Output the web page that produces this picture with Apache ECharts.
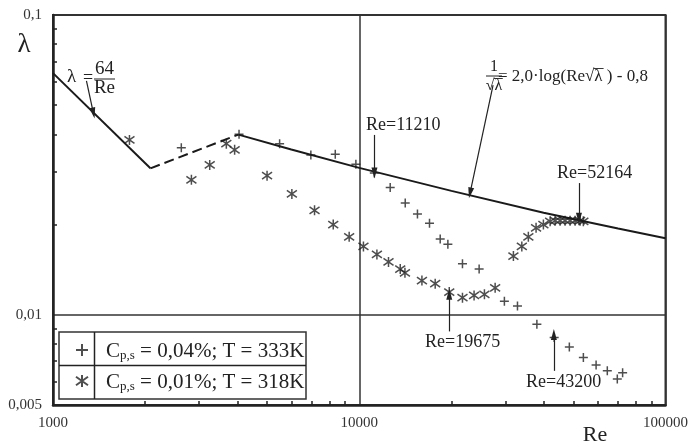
<!DOCTYPE html>
<html>
<head>
<meta charset="utf-8">
<script src="https://cdn.jsdelivr.net/npm/echarts@6/dist/echarts.min.js"></script>
<style>html,body{margin:0;padding:0;background:#fff}#main{width:691px;height:445px}</style>
</head>
<body>
<div id="main"></div>
<script>
// линии: ламинарный участок, переход, формула Прандтля
var laminarRe = [1000, 2080];
var laminarLambda = [0.064, 0.0308];
var transRe = [2080, 4030];
var transLambda = [0.0308, 0.0399];
var turbRe = [4030, 6000, 10000, 20000, 40000, 70000, 100000];
var turbLambda = [0.0399, 0.0356, 0.0309, 0.0259, 0.0219, 0.0194, 0.0180];

// + : Cp,s = 0,04%; T = 333K
var plusRe = [2624, 4050, 5495, 6950, 8350, 9750, 11200, 12620, 14130, 15490, 16960, 18380, 19470,
	21730, 24630, 29780, 32860, 38020, 43300, 48530, 53930, 59340, 64560, 69600, 72440];
var plusLambda = [0.0361, 0.0400, 0.0372, 0.0341, 0.0343, 0.0318, 0.0297, 0.0266, 0.0236, 0.0217, 0.0202, 0.0179, 0.0172,
	0.0148, 0.0142, 0.0111, 0.0107, 0.0093, 0.0084, 0.0078, 0.0072, 0.0068, 0.0065, 0.0061, 0.0064];

// * : Cp,s = 0,01%; T = 318K
var starRe = [1777, 2831, 3249, 3681, 3918, 5000, 6025, 7145, 8224, 9270, 10320, 11420, 12460, 13610, 14100,
	16020, 17700, 19675, 21730, 23710, 25630, 27780, 31870, 33950, 35660, 37790, 39930,
	42000, 43610, 45270, 46990, 48800, 50670, 52600, 53920];
var starLambda = [0.0383, 0.0282, 0.0316, 0.0372, 0.0355, 0.0291, 0.0253, 0.0223, 0.0200, 0.0182, 0.0169, 0.0159, 0.0150, 0.0142, 0.0138,
	0.0130, 0.0127, 0.0119, 0.0114, 0.0116, 0.0117, 0.0123, 0.0157, 0.0169, 0.0182, 0.0195, 0.0200,
	0.0205, 0.0206, 0.0206, 0.0206, 0.0206, 0.0206, 0.0206, 0.0205];

var xMinor = [2000, 3000, 4000, 5000, 6000, 7000, 8000, 9000, 20000, 30000, 40000, 50000, 60000, 70000, 80000, 90000];
var yMinor = [0.006, 0.007, 0.008, 0.009, 0.02, 0.03, 0.04, 0.05, 0.06, 0.07, 0.08, 0.09];
var legendNames = ['Cp,s = 0,04%; T = 333K', 'Cp,s = 0,01%; T = 318K'];

// стрелки с подписями Re=...
var arrowRe = [11210, 52164, 19675, 43200];
var arrowFrom = [0.0398, 0.0275, 0.0088, 0.0065];
var arrowTo = [0.0297, 0.0210, 0.0117, 0.0086];
var arrowText = ['Re=11210', 'Re=52164', 'Re=19675', 'Re=43200'];
var arrowTextPos = [[366, 125], [557, 173], [425, 342], [526, 382]];

var FONT = '"Liberation Serif", "Times New Roman", serif';
var INK = '#222';

function zip(a, b) {
	return a.map(function (v, i) { return [v, b[i]]; });
}

var cv = document.createElement('canvas').getContext('2d');
function tw(s, size) {
	cv.font = size + 'px ' + FONT;
	return cv.measureText(s).width;
}

var plusPath = 'path://M0,5L10,5M5,0L5,10';
var starPath = 'path://M5,0L5,10M0,1.5L10,8.5M0,8.5L10,1.5';
var headPath = 'path://M5,0L10,16L0,16Z';

function arrow(x1, y1, x2, y2) {
	return [
		{ coord: [x1, y1], symbol: 'none' },
		{ coord: [x2, y2], symbol: headPath, symbolSize: [6, 11] }
	];
}

var arrows = arrowRe.map(function (re, i) {
	return arrow(re, arrowFrom[i], re, arrowTo[i]);
});
arrows.push(arrow(1286, 0.0603, 1355, 0.0471));
arrows.push(arrow(27350, 0.0584, 23010, 0.0255));

var graphic = [];
function txt(s, x, y, size, align) {
	graphic.push({
		type: 'text', x: x, y: y, silent: true,
		style: { text: s, fontSize: size, fontFamily: FONT, fill: INK, align: align || 'left', verticalAlign: 'middle' }
	});
}
function ln(x1, y1, x2, y2, w) {
	graphic.push({
		type: 'line', silent: true,
		shape: { x1: x1, y1: y1, x2: x2, y2: y2 },
		style: { stroke: INK, lineWidth: w || 1.2 }
	});
}

// подписи осей
txt('λ', 24, 45, 27, 'center');
txt('Re', 595, 435, 22, 'center');

// λ = 64/Re
txt('λ', 67, 77, 19);
txt('=', 88, 78, 18, 'center');
txt('64', 104.5, 69, 19, 'center');
ln(94, 79, 115, 79, 1);
txt('Re', 104.5, 88, 19, 'center');

// 1/√λ = 2,0·log(Re√λ) - 0,8
(function () {
	var fs = 17, y = 77, ff = 16;
	txt('1', 494, 67, ff, 'center');
	ln(486, 76, 502, 76, 1);
	var w1 = tw('√', ff), w2 = tw('λ', ff);
	var x0 = 494 - (w1 + w2) / 2;
	txt('√', x0, 85.5, ff);
	txt('λ', x0 + w1, 85.5, ff);
	ln(x0 + w1 - 0.5, 78.5, x0 + w1 + w2 + 0.5, 78.5, 0.9);
	var a = '= 2,0·log(Re';
	var x = 498;
	txt(a, x, y, fs);
	x += tw(a, fs);
	txt('√', x, y, fs);
	x += tw('√', fs);
	txt('λ', x, y, fs);
	ln(x - 0.5, y - 8.5, x + tw('λ', fs) + 1, y - 8.5, 0.9);
	x += tw('λ', fs);
	txt(' ) - 0,8', x, y, fs);
})();

arrowText.forEach(function (s, i) {
	txt(s, arrowTextPos[i][0], arrowTextPos[i][1], 18);
});

// рамка легенды
graphic.push({
	type: 'rect', silent: true,
	shape: { x: 59, y: 332, width: 247, height: 67 },
	style: { fill: 'none', stroke: '#333', lineWidth: 1.5 }
});
ln(94.5, 332, 94.5, 399, 1.5);
ln(59, 365.5, 306, 365.5, 1.5);

var myChart = echarts.init(document.getElementById('main'));

myChart.setOption({
	animation: false,
	grid: {
		left: 53, top: 15, width: 613, height: 390,
		show: true, borderColor: '#333', borderWidth: 2
	},

	legend: {
		data: legendNames,
		orient: 'vertical',
		left: 70, top: 336,
		itemWidth: 12, itemHeight: 12, itemGap: 10,
		selectedMode: false,
		formatter: function (name) {
			return name.replace(/^Cp,s/, '{c|C}{s|p,s}{m|') + '}';
		},
		textStyle: {
			rich: {
				c: { fontFamily: FONT, fontSize: 21, color: INK, lineHeight: 24, verticalAlign: 'bottom', padding: [0, 0, 0, 13] },
				m: { fontFamily: FONT, fontSize: 21, color: INK, lineHeight: 24, verticalAlign: 'bottom' },
				s: { fontFamily: FONT, fontSize: 13, color: INK, lineHeight: 6, verticalAlign: 'bottom' }
			}
		}
	},

	xAxis: [
		{
			type: 'log', logBase: 10, min: 1000, max: 100000,
			axisLine: { lineStyle: { color: INK, width: 2.5 } },
			axisTick: { show: false },
			axisLabel: {
				fontFamily: FONT, fontSize: 15, color: '#333', margin: 11,
				formatter: function (v) { return String(Math.round(v)); }
			},
			splitLine: { show: true, lineStyle: { color: '#333', width: 1.5 } }
		},
		{
			type: 'log', logBase: 10, min: 1000, max: 100000, position: 'bottom',
			axisLine: { show: false },
			axisLabel: { show: false },
			splitLine: { show: false },
			axisTick: { show: true, inside: true, length: 4, customValues: xMinor, lineStyle: { color: INK, width: 1.5 } }
		}
	],

	yAxis: [
		{
			type: 'log', logBase: 10, min: 0.005, max: 0.1,
			axisLine: { lineStyle: { color: INK, width: 2.5 } },
			axisTick: { show: false },
			axisLabel: {
				fontFamily: FONT, fontSize: 15, color: '#333', margin: 11, showMinLabel: true,
				formatter: function (v) { return String(+(+v).toPrecision(3)).replace('.', ','); }
			},
			splitLine: { show: true, lineStyle: { color: '#333', width: 1.5 } }
		},
		{
			type: 'log', logBase: 10, min: 0.005, max: 0.1, position: 'left',
			axisLine: { show: false },
			axisLabel: { show: false },
			splitLine: { show: false },
			axisTick: { show: true, inside: true, length: 4, customValues: yMinor, lineStyle: { color: INK, width: 1.5 } }
		}
	],

	series: [
		{
			name: 'laminar', type: 'line', data: zip(laminarRe, laminarLambda),
			showSymbol: false, silent: true,
			lineStyle: { color: '#1a1a1a', width: 2 }
		},
		{
			name: 'transition', type: 'line', data: zip(transRe, transLambda),
			showSymbol: false, silent: true,
			lineStyle: { color: '#1a1a1a', width: 2, type: [10, 5] }
		},
		{
			name: 'prandtl', type: 'line', data: zip(turbRe, turbLambda),
			showSymbol: false, silent: true,
			lineStyle: { color: '#1a1a1a', width: 2 },
			markLine: {
				silent: true, symbol: ['none', 'none'],
				label: { show: false },
				lineStyle: { color: INK, width: 1.2, type: 'solid' },
				emphasis: { disabled: true },
				data: arrows
			}
		},
		{
			name: legendNames[0], type: 'scatter', data: zip(plusRe, plusLambda),
			symbol: plusPath, symbolSize: 9,
			itemStyle: { color: 'rgba(0,0,0,0)', borderColor: INK, borderWidth: 1.5 }
		},
		{
			name: legendNames[1], type: 'scatter', data: zip(starRe, starLambda),
			symbol: starPath, symbolSize: 10,
			itemStyle: { color: 'rgba(0,0,0,0)', borderColor: INK, borderWidth: 1.5 }
		}
	],

	graphic: graphic
});
</script>
</body>
</html>
